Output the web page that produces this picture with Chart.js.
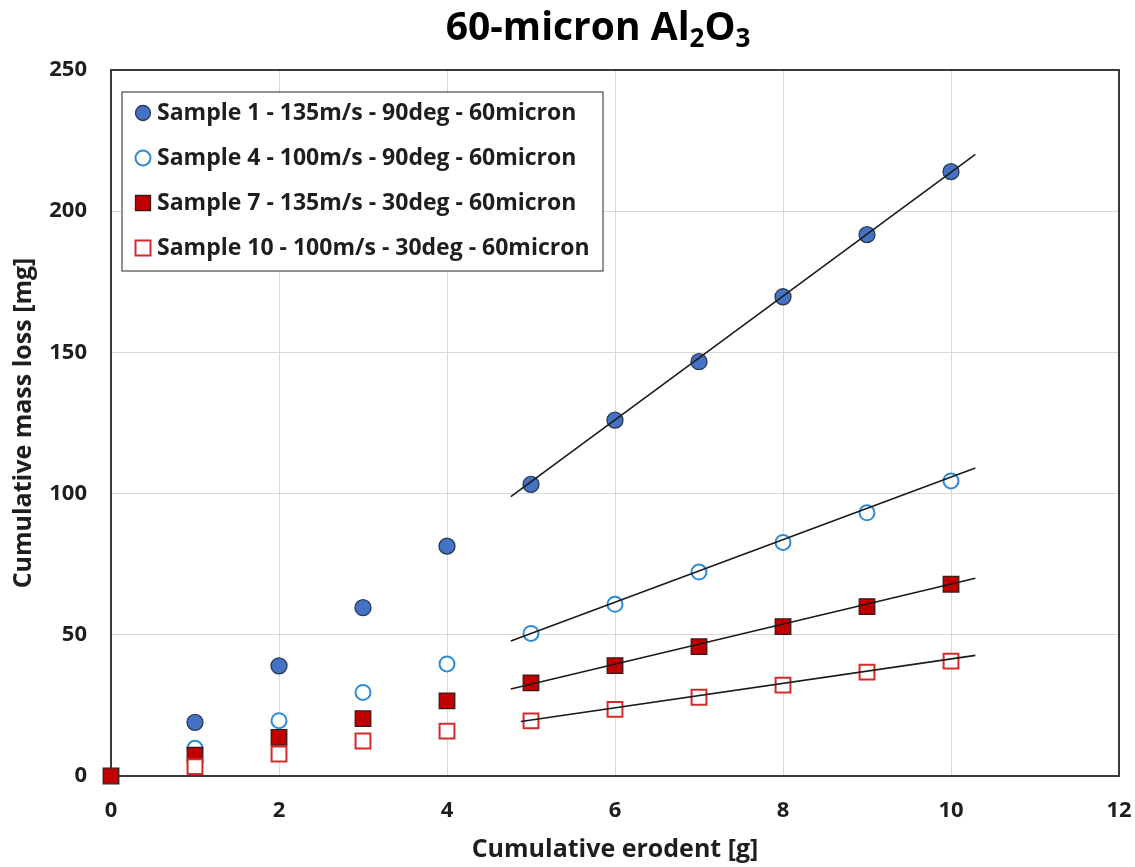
<!DOCTYPE html>
<html>
<head>
<meta charset="utf-8">
<title>60-micron Al2O3</title>
<script src="https://cdn.jsdelivr.net/npm/chart.js@4.4.1/dist/chart.umd.min.js"></script>
<style>
  html, body { margin: 0; padding: 0; background: #fff; }
  #wrap { width: 1135px; height: 867px; }
</style>
</head>
<body>
<div id="wrap"><canvas id="erosion-chart-canvas" width="1135" height="867"></canvas></div>
<script>
// cumulative erodent [g] vs cumulative mass loss [mg]
var erodent = [1, 2, 3, 4, 5, 6, 7, 8, 9, 10]
var erodent7 = [0, 1, 2, 3, 4, 5, 6, 7, 8, 9, 10]
var sample1 = [19.0, 39.0, 59.6, 81.4, 103.3, 126.0, 146.7, 169.7, 191.7, 214.0]
var sample4 = [9.8, 19.6, 29.6, 39.7, 50.5, 60.8, 72.2, 82.7, 93.2, 104.5]
var sample7 = [0, 7.4, 13.7, 20.3, 26.6, 33.0, 39.1, 45.8, 52.9, 60.0, 67.9]
var sample10 = [3.3, 7.8, 12.4, 15.9, 19.5, 23.6, 27.9, 32.2, 36.8, 40.7]

// linear trendlines over the steady-state part (5 g onwards)
var trendX = [4.76, 10.29]
var trendX10 = [4.88, 10.29]
var trend1 = [98.9, 220.1]
var trend4 = [47.8, 109.1]
var trend7 = [30.8, 70.0]
var trend10 = [19.3, 42.7]

var labels = [
  'Sample 1 - 135m/s - 90deg - 60micron',
  'Sample 4 - 100m/s - 90deg - 60micron',
  'Sample 7 - 135m/s - 30deg - 60micron',
  'Sample 10 - 100m/s - 30deg - 60micron'
]
var xTicks = [0, 2, 4, 6, 8, 10, 12]
var yTicks = [0, 50, 100, 150, 200, 250]

function pts(xs, ys) {
  return xs.map(function (x, i) { return { x: x, y: ys[i] } })
}

var FONT = '"Open Sans", Lato, sans-serif'
var TEXT = '#1e1e1e'

function trendSet(xs, ys) {
  return {
    type: 'line',
    data: pts(xs, ys),
    borderColor: '#1a1a1a',
    borderWidth: 1.6,
    pointRadius: 0,
    fill: false,
    order: 1,
  }
}

// title with sub-scripted formula
var titlePlugin = {
  id: 'formulaTitle',
  afterDraw: function (chart) {
    var ctx = chart.ctx
    var parts = [
      { t: '60-micron Al', sub: false },
      { t: '2', sub: true },
      { t: 'O', sub: false },
      { t: '3', sub: true }
    ]
    var big = 'bold 39px ' + FONT
    var small = 'bold 26px ' + FONT
    ctx.save()
    var total = 0
    parts.forEach(function (p) {
      ctx.font = p.sub ? small : big
      p.w = ctx.measureText(p.t).width
      total += p.w
    })
    var x = 598 - total / 2
    ctx.fillStyle = '#000'
    ctx.textBaseline = 'alphabetic'
    ctx.textAlign = 'left'
    parts.forEach(function (p) {
      ctx.font = p.sub ? small : big
      ctx.fillText(p.t, x, p.sub ? 47 : 40)
      x += p.w
    })
    ctx.restore()
  }
}

// dark frame round the plot area
var framePlugin = {
  id: 'plotFrame',
  beforeDatasetsDraw: function (chart) {
    var a = chart.chartArea
    var ctx = chart.ctx
    ctx.save()
    ctx.strokeStyle = '#3a3a3a'
    ctx.lineWidth = 2
    ctx.strokeRect(a.left, a.top, a.right - a.left, a.bottom - a.top)
    ctx.restore()
  }
}

// boxed legend inside the plot, top left
var legendPlugin = {
  id: 'boxLegend',
  afterDraw: function (chart) {
    var ctx = chart.ctx
    var bx = 122, by = 92, bw = 481, bh = 179
    ctx.save()
    ctx.fillStyle = '#fff'
    ctx.fillRect(bx, by, bw, bh)
    ctx.strokeStyle = '#4a4a4a'
    ctx.lineWidth = 1.2
    ctx.strokeRect(bx, by, bw, bh)
    ctx.font = 'bold 23px ' + FONT
    ctx.textBaseline = 'middle'
    ctx.textAlign = 'left'
    for (var i = 0; i < 4; i++) {
      var ds = chart.data.datasets[i]
      var cy = 113 + i * 45
      var cx = 143
      ctx.fillStyle = ds.backgroundColor
      ctx.strokeStyle = ds.borderColor
      ctx.lineWidth = ds.borderWidth
      ctx.beginPath()
      if (ds.pointStyle === 'circle') {
        ctx.arc(cx, cy, 7.5, 0, Math.PI * 2)
      } else {
        ctx.rect(cx - 7.5, cy - 7.5, 15, 15)
      }
      ctx.fill()
      ctx.stroke()
      ctx.fillStyle = TEXT
      ctx.fillText(labels[i], 157, cy)
    }
    ctx.restore()
  }
}

var erosionChartCanvas = document.getElementById('erosion-chart-canvas').getContext('2d')
var erosionChart = new Chart(erosionChartCanvas, {
  type: 'scatter',
  data: {
    datasets: [
      {
        label: labels[0],
        data: pts(erodent, sample1),
        pointStyle: 'circle',
        pointRadius: 8,
        backgroundColor: '#4472C4',
        borderColor: '#2c3a55',
        borderWidth: 1.3,
        order: 5,
      },
      {
        label: labels[1],
        data: pts(erodent, sample4),
        pointStyle: 'circle',
        pointRadius: 7.5,
        backgroundColor: '#ffffff',
        borderColor: '#2E8BD6',
        borderWidth: 2,
        order: 4,
      },
      {
        label: labels[2],
        data: pts(erodent7, sample7),
        pointStyle: 'rect',
        pointRadius: 11,
        backgroundColor: '#C00000',
        borderColor: '#3a1a1a',
        borderWidth: 1.3,
        order: 3,
      },
      {
        label: labels[3],
        data: pts(erodent, sample10),
        pointStyle: 'rect',
        pointRadius: 10.5,
        backgroundColor: '#ffffff',
        borderColor: '#D42A2A',
        borderWidth: 2,
        order: 2,
      },
      trendSet(trendX, trend1),
      trendSet(trendX, trend4),
      trendSet(trendX, trend7),
      trendSet(trendX10, trend10)
    ]
  },
  options: {
    responsive: false,
    animation: false,
    clip: false,
    layout: { padding: { top: 70, right: 16, left: 0, bottom: 0 } },
    plugins: {
      legend: { display: false },
      title: { display: false },
      tooltip: { enabled: false }
    },
    scales: {
      x: {
        type: 'linear',
        min: xTicks[0],
        max: xTicks[xTicks.length - 1],
        afterBuildTicks: function (scale) {
          scale.ticks = xTicks.map(function (v) { return { value: v } })
        },
        afterFit: function (scale) {
          scale.height = 91
          scale.paddingLeft = 0
          scale.paddingRight = 0
        },
        grid: { color: '#d9d9d9', lineWidth: 1, drawTicks: false },
        border: { display: false },
        ticks: {
          padding: 22,
          color: TEXT,
          font: { family: FONT, size: 22, weight: 'bold' }
        },
        title: {
          display: true,
          text: 'Cumulative erodent [g]',
          color: TEXT,
          padding: { top: 0, bottom: 2 },
          font: { family: FONT, size: 25, weight: 'bold' }
        }
      },
      y: {
        type: 'linear',
        min: yTicks[0],
        max: yTicks[yTicks.length - 1],
        afterBuildTicks: function (scale) {
          scale.ticks = yTicks.map(function (v) { return { value: v } })
        },
        afterFit: function (scale) { scale.width = 111 },
        grid: { color: '#d9d9d9', lineWidth: 1, drawTicks: false },
        border: { display: false },
        ticks: {
          padding: 24,
          color: TEXT,
          font: { family: FONT, size: 22, weight: 'bold' }
        },
        title: {
          display: true,
          text: 'Cumulative mass loss [mg]',
          color: TEXT,
          padding: { top: 9, bottom: 0 },
          font: { family: FONT, size: 25, weight: 'bold' }
        }
      }
    }
  },
  plugins: [framePlugin, titlePlugin, legendPlugin]
})
</script>
</body>
</html>
